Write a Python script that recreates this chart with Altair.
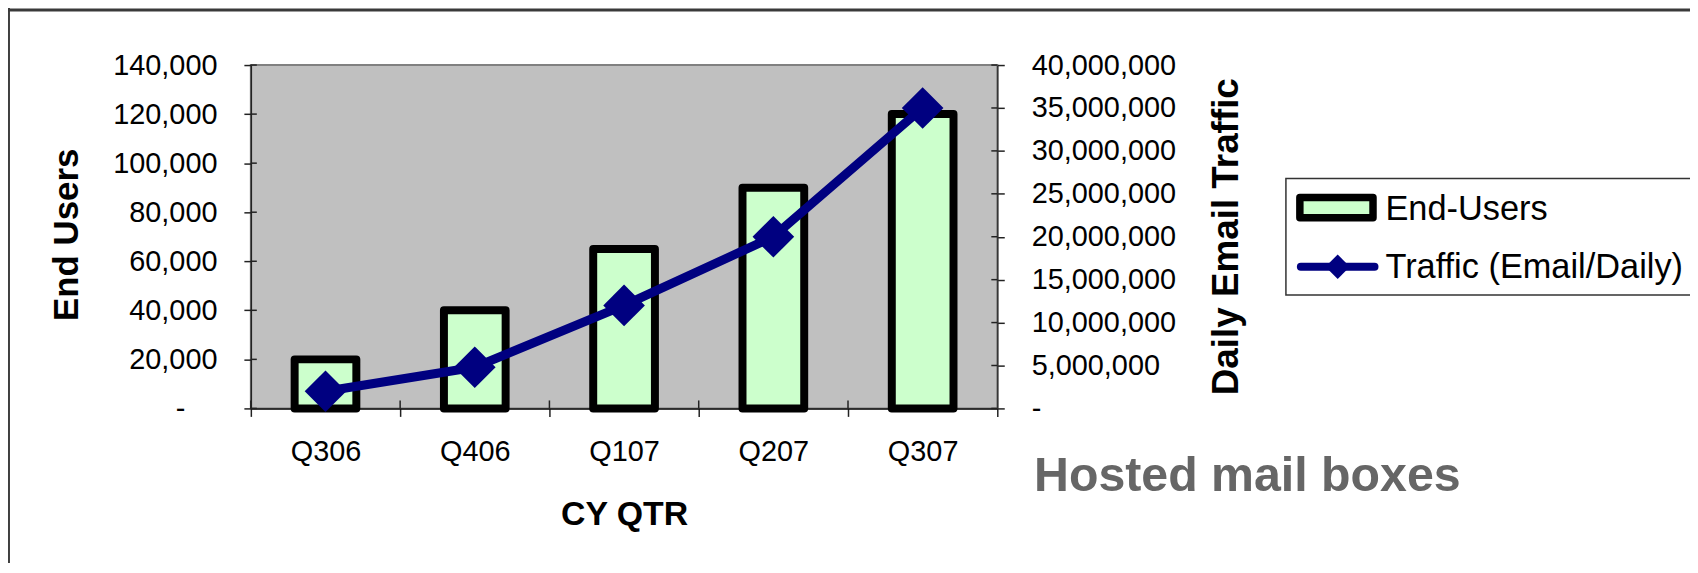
import altair as alt
import pandas as pd

# ---- data ----
quarters = ["Q306", "Q406", "Q107", "Q207", "Q307"]
end_users = [20000, 40000, 65000, 90000, 120000]
traffic = [2000000, 4800000, 12000000, 20000000, 35000000]
users_ticks = [0, 20000, 40000, 60000, 80000, 100000, 120000, 140000]
traffic_ticks = [0, 5000000, 10000000, 15000000, 20000000, 25000000, 30000000, 35000000, 40000000]
legend_labels = ["End-Users", "Traffic (Email/Daily)"]
x_title = "CY QTR"
y_left_title = "End Users"
y_right_title = "Daily Email Traffic"
caption = "Hosted mail boxes"

FONT = "Liberation Sans"
NAVY = "#000080"
GREEN = "#CCFFCC"
NB = "\u00a0"
ZW = "\u200b"

df = pd.DataFrame({"Quarter": quarters, "Users": end_users, "Traffic": traffic})
deco = pd.DataFrame({"k": [0]})
lt_df = pd.DataFrame({"Users": users_ticks})
rt_df = pd.DataFrame({"Traffic": traffic_ticks})

x_scale = alt.Scale(domain=quarters, paddingInner=0, paddingOuter=0)
x_axis = alt.Axis(
    title=x_title, orient="bottom", tickBand="extent", tickSize=8, tickWidth=1.5,
    tickColor="#222222", domainColor="#111111", domainWidth=1.5,
    labelFont=FONT, labelFontSize=29, labelColor="black", labelPadding=21,
    labelAngle=0, grid=False,
    titleFont=FONT, titleFontSize=34, titleFontWeight="bold", titleColor="black",
    titleX=375, titleY=117, titleBaseline="alphabetic", titleAngle=0, titleAlign="center",
)

users_scale = alt.Scale(domain=[0, 140000], nice=False)
traffic_scale = alt.Scale(domain=[0, 40000000], nice=False)

left_axis = alt.Axis(
    title=y_left_title, orient="left", values=users_ticks,
    labelExpr="datum.value == 0 ? '-" + NB * 4 + ZW + "' : format(datum.value, ',')",
    labelFont=FONT, labelFontSize=29, labelColor="black", labelPadding=27,
    labelOverlap=False, labelFlush=False,
    tickSize=7, tickWidth=1.5, tickColor="#222222",
    domainColor="#222222", domainWidth=1.5, grid=False,
    titleFont=FONT, titleFontSize=35, titleFontWeight="bold", titleColor="black",
    titleAngle=270, titleAlign="center", titleBaseline="alphabetic",
    titleX=-174, titleY=170,
)
right_axis = alt.Axis(
    title=y_right_title, orient="right", values=traffic_ticks,
    labelExpr="datum.value == 0 ? '-' : format(datum.value, ',')",
    labelFont=FONT, labelFontSize=29, labelColor="black", labelPadding=27,
    labelOverlap=False, labelFlush=False,
    tickSize=7, tickWidth=1.5, tickColor="#222222",
    domainColor="#333333", domainWidth=1.5, grid=False,
    titleFont=FONT, titleFontSize=37, titleFontWeight="bold", titleColor="black",
    titleAngle=270, titleAlign="center", titleBaseline="alphabetic",
    titleX=241, titleY=172,
)


def xq(**kw):
    return alt.X("Quarter:N", sort=quarters, scale=x_scale, axis=x_axis, **kw)


bars = alt.Chart(df).mark_bar(
    size=62, fill=GREEN, stroke="black", strokeWidth=8, strokeJoin="round"
).encode(
    x=xq(),
    y=alt.Y("Users:Q", scale=users_scale, axis=left_axis),
    y2=alt.value(341),
)

left_inner_ticks = alt.Chart(lt_df).mark_rule(color="#222222", strokeWidth=1.5).encode(
    y=alt.Y("Users:Q", scale=users_scale, axis=left_axis),
    x=alt.value(0), x2=alt.value(6),
)

x_inner_ticks = alt.Chart(df).mark_rule(color="#222222", strokeWidth=1.5).encode(
    x=xq(bandPosition=0),
    y=alt.value(337), y2=alt.value(345),
)

line = alt.Chart(df).mark_line(color=NAVY, strokeWidth=9, strokeJoin="round").encode(
    x=xq(),
    y=alt.Y("Traffic:Q", scale=traffic_scale, axis=right_axis),
)
points = alt.Chart(df).mark_point(
    shape="diamond", filled=True, color=NAVY, size=1750, opacity=1
).encode(
    x=xq(),
    y=alt.Y("Traffic:Q", scale=traffic_scale, axis=right_axis),
)
right_inner_ticks = alt.Chart(rt_df).mark_rule(color="#222222", strokeWidth=1.5).encode(
    y=alt.Y("Traffic:Q", scale=traffic_scale, axis=right_axis),
    x=alt.value(744), x2=alt.value(750),
)

left_group = alt.layer(bars, left_inner_ticks, x_inner_ticks)
right_group = alt.layer(line, points, right_inner_ticks)

# ---- decorations: frame, legend, caption ----
frame_left = alt.Chart(deco).mark_rule(color="black", strokeWidth=1.5).encode(
    x=alt.value(-243), y=alt.value(-60), y2=alt.value(600)
)
frame_top = alt.Chart(deco).mark_rule(color="#3a3a3a", strokeWidth=3).encode(
    x=alt.value(-244), x2=alt.value(1460), y=alt.value(-55.3)
)
legend_box = alt.Chart(deco).mark_rect(fill="white", stroke="#333333", strokeWidth=1.5).encode(
    x=alt.value(1040), x2=alt.value(1500), y=alt.value(114), y2=alt.value(231)
)
legend_bar = alt.Chart(deco).mark_rect(
    fill=GREEN, stroke="black", strokeWidth=7.5, strokeJoin="round"
).encode(
    x=alt.value(1054), x2=alt.value(1127.5), y=alt.value(133), y2=alt.value(153.5)
)
legend_line = alt.Chart(deco).mark_rule(color=NAVY, strokeWidth=8, strokeCap="round").encode(
    x=alt.value(1055), x2=alt.value(1129), y=alt.value(202.7)
)
legend_diamond = alt.Chart(deco).mark_point(
    shape="diamond", filled=True, color=NAVY, size=600, opacity=1
).encode(x=alt.value(1092), y=alt.value(202.7))
legend_text1 = alt.Chart(deco).mark_text(
    align="left", baseline="alphabetic", font=FONT, fontSize=34.5, color="black"
).encode(x=alt.value(1140), y=alt.value(156), text=alt.value(legend_labels[0]))
legend_text2 = alt.Chart(deco).mark_text(
    align="left", baseline="alphabetic", font=FONT, fontSize=34.5, color="black"
).encode(x=alt.value(1140), y=alt.value(214.3), text=alt.value(legend_labels[1]))
caption_text = alt.Chart(deco).mark_text(
    align="left", baseline="alphabetic", font=FONT, fontSize=48.5, fontWeight="bold",
    color="#666666"
).encode(x=alt.value(787), y=alt.value(428), text=alt.value(caption))

chart = alt.layer(
    left_group, right_group,
    frame_left, frame_top, legend_box, legend_bar, legend_line, legend_diamond,
    legend_text1, legend_text2, caption_text,
).resolve_scale(y="independent").properties(
    width=750, height=345,
    autosize=alt.AutoSizeParams(type="none"),
    padding={"left": 244, "top": 56, "right": 696, "bottom": 154},
    background="white",
).configure_view(stroke="#808080", strokeWidth=2, fill="#C0C0C0")

chart.save("out.html", embed_options={"renderer": "svg", "actions": False})
